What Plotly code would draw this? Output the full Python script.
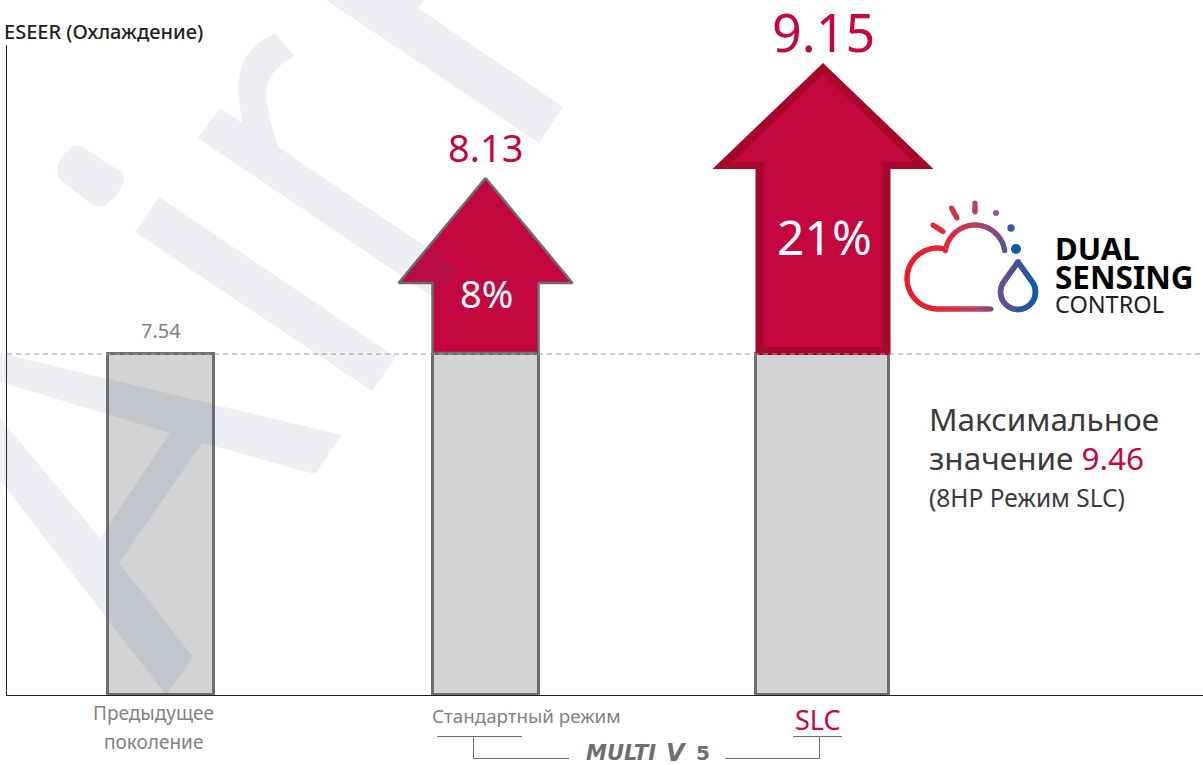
import math
import numpy as np
import plotly.graph_objects as go

# ---------- data ----------
categories = ["Предыдущее<br>поколение", "Стандартный режим", "SLC"]
base_values = [7.54, 7.54, 7.54]
eseer_values = [7.54, 8.13, 9.15]
gain_labels = ["8%", "21%"]
y_title = "ESEER (Охлаждение)"
max_label = "Максимальное"
max_label2 = "значение "
max_value = "9.46"
max_note = "(8HP Режим SLC)"

# ---------- page geometry ----------
W, H = 1203, 765
L, B_PX, T = 7, 695, 45
PW, PH = W - L, B_PX - T
UNIT = 341 / 7.54          # screen pixels per ESEER unit for the grey bars


def px(x):
    return (x - L) / PW


def py(y):
    return (B_PX - y) / PH


def val(y):
    return (B_PX - y) / UNIT


GREY = "#6D6E71"
TXT_GREY = "#808285"
RED = "#C4063F"
DARK_RED = "#A50829"
FONT = "Noto Sans"

bar_x = [160.5, 485.5, 822.5]
bar_w = [106, 106, 133]

fig = go.Figure()
fig.add_trace(go.Bar(x=bar_x, y=base_values, width=bar_w,
                     marker=dict(color="#D1D3D4", line=dict(color=GREY, width=3)),
                     hoverinfo="skip", showlegend=False))


def arrow(cx, head, shaft, tip, shoulder, bottom, color, line=None):
    xs = [cx, cx + head, cx + shaft, cx + shaft, cx - shaft, cx - shaft, cx - head, cx]
    ys = [val(v) for v in (tip, shoulder, shoulder, bottom, bottom, shoulder, shoulder, tip)]
    fig.add_trace(go.Scatter(x=xs, y=ys, mode="lines", fill="toself", fillcolor=color,
                             line=dict(color=line or color, width=2.5 if line else 0),
                             hoverinfo="skip", showlegend=False))


arrow(485.5, 87, 53, 178, 283, 353, RED, GREY)
arrow(823, 110.5, 67.5, 63, 169, 355, DARK_RED)
arrow(823, 90.5, 59.5, 74, 162, 347, RED)

shapes = []


def poly(points):
    return "M" + "L".join(f"{px(x):.5f},{py(y):.5f}" for x, y in points) + "Z"


# background watermark
wm = [
    [(326, 0), (539, 143), (563, 107), (418, 8), (424, 0)],
    [(220, 108), (242, 123), (239, 100), (238, 87), (240, 72), (245, 58), (254, 47), (264, 39), (275, 33),
     (294, 56), (282, 64), (273, 73), (267, 84), (266, 97), (270, 120), (278, 147), (456, 267),
     (433, 297), (198, 138)],
    [(79, 145), (123, 173), (124, 180), (120, 190), (115, 197), (106, 205), (98, 207), (90, 203), (58, 178),
     (57, 170), (60, 160), (65, 153), (72, 146)],
    [(159, 197), (396, 357), (372, 391), (135, 232)],
    [(0, 353), (342, 435), (315, 474), (202, 443), (119, 563), (193, 657), (166, 695), (0, 480),
     (0, 418), (100, 538), (170, 433), (0, 382)],
]
shapes.append(dict(type="path", xref="paper", yref="paper", layer="above",
                   path="".join(poly(p) for p in wm),
                   fillcolor="rgba(65,85,135,0.095)", line=dict(width=0)))


def seg(x0, y0, x1, y1, color=GREY, width=1, dash=None):
    ln = dict(color=color, width=width)
    if dash:
        ln["dash"] = dash
    shapes.append(dict(type="line", xref="paper", yref="paper", layer="above",
                       x0=px(x0), y0=py(y0), x1=px(x1), y1=py(y1), line=ln))


def dot(x, y, r, color):
    shapes.append(dict(type="circle", xref="paper", yref="paper", layer="above",
                       x0=px(x - r), x1=px(x + r), y0=py(y + r), y1=py(y - r),
                       fillcolor=color, line=dict(width=0)))


# reference line and brackets
seg(7, 354, 1203, 354, "#9A9C9F", 1, "5px,4px")
seg(437, 736.5, 522, 736.5)
seg(473.5, 736.5, 473.5, 758.5)
seg(473.5, 758.5, 569, 758.5)
seg(793, 736.5, 842, 736.5)
seg(819.5, 736.5, 819.5, 758.5)
seg(725, 758.5, 819.5, 758.5)

# logo with a red to blue gradient along x
stops_x = [905, 940, 975, 1000, 1037]
stops_c = [(237, 28, 36), (226, 40, 58), (184, 67, 95), (110, 79, 140), (11, 92, 171)]


def grad(x):
    c = [np.interp(x, stops_x, [s[i] for s in stops_c]) for i in range(3)]
    return "rgb(%d,%d,%d)" % tuple(int(v) for v in c)


def resample(points, step=2.0):
    out = []
    for a, b in zip(points[:-1], points[1:]):
        n = max(1, int(math.hypot(b[0] - a[0], b[1] - a[1]) / step))
        for i in range(n):
            out.append((a[0] + (b[0] - a[0]) * i / n, a[1] + (b[1] - a[1]) * i / n))
    out.append(points[-1])
    return out


def gradient_line(points, width=5, round_ends=True):
    pts = resample(points)
    for i in range(len(pts) - 1):
        a, b = pts[i], pts[min(i + 2, len(pts) - 1)]   # overlap so no seams show
        seg(a[0], a[1], b[0], b[1], grad(pts[i][0]), width)
    if round_ends:
        dot(pts[0][0], pts[0][1], width / 2, grad(pts[0][0]))
        dot(pts[-1][0], pts[-1][1], width / 2, grad(pts[-1][0]))


def arc(cx, cy, r, a0, a1, n):
    return [(cx + r * math.cos(math.radians(a)), cy + r * math.sin(math.radians(a)))
            for a in np.linspace(a0, a1, n)]


gradient_line([(991, 309), (950, 309)] + arc(937.5, 278.5, 30.5, 90, 285, 60))
gradient_line(arc(975, 255, 30, 188, 352, 50))
drop = [(1018, 262), (1032.3, 282)] + arc(1018, 292, 17.5, -35, 215, 60) + [(1018, 262)]
gradient_line(drop, 5.5)
gradient_line([(933, 225), (943, 231.5)], 5)
gradient_line([(951.5, 208), (957, 218)], 5)
gradient_line([(975, 203), (975, 212)], 5)
dot(996, 213, 3, "#8B5A8F")
dot(1011, 228, 3.7, "#2F5FA8")
dot(1016, 249, 5, "#0F5AA8")

annotations = []


def text(x, y, s, size, color, anchor="center", family=FONT, weight=None):
    f = dict(size=size, color=color, family=family)
    if weight:
        f["weight"] = weight
    annotations.append(dict(xref="paper", yref="paper", x=px(x), y=py(y), text=s, showarrow=False,
                            xanchor=anchor, yanchor="middle", align="center", font=f))


def fmt(v):
    return f"{v:.2f}"


text(2, 31, y_title, 20, "#231F20", "left", weight=500)
text(160.5, 331, fmt(eseer_values[0]), 20, TXT_GREY)
text(485.5, 147, fmt(eseer_values[1]), 38, RED)
text(823, 32, fmt(eseer_values[2]), 52, RED)
text(486, 293, gain_labels[0], 38, "white")
text(824, 236, gain_labels[1], 48, "white")
text(927, 418, max_label, 31.5, "#3A3A3C", "left")
annotations.append(dict(xref="paper", yref="paper", x=px(927), y=py(457), showarrow=False,
                        xanchor="left", yanchor="middle",
                        text=f"{max_label2}<span style='color:{RED}'>{max_value}</span>",
                        font=dict(size=31.5, color="#3A3A3C", family=FONT)))
text(927, 497, max_note, 24.5, "#3A3A3C", "left")
a, b = categories[0].split("<br>")
text(153.5, 713, a, 19, TXT_GREY)
text(153.5, 742, b, 19, TXT_GREY)
text(526, 716, categories[1], 18.8, TXT_GREY)
text(818, 719, categories[2], 27, RED)
text(1053, 248, "<b>DUAL</b>", 31, "#000000", "left")
text(1053, 276, "<b>SENSING</b>", 31.5, "#000000", "left")
text(1053, 304, "CONTROL", 23.5, "#231F20", "left")
text(621, 753, "<b><i>MULTI</i></b>", 21, GREY, family="DejaVu Sans")
text(676, 753, "<b><i>V</i></b>", 24, GREY, family="DejaVu Sans")
text(703, 753, "<b>5</b>", 20, GREY, family="DejaVu Sans")

fig.update_layout(
    width=W, height=H, autosize=False, bargap=0,
    margin=dict(l=L, r=0, t=T, b=H - B_PX, pad=0),
    paper_bgcolor="white", plot_bgcolor="white",
    xaxis=dict(range=[L, W], showgrid=False, zeroline=False, showticklabels=False, ticks="",
               showline=True, linecolor="#231F20", linewidth=1),
    yaxis=dict(range=[0, PH / UNIT], showgrid=False, zeroline=False, showticklabels=False, ticks="",
               showline=True, linecolor="#231F20", linewidth=1),
    shapes=shapes, annotations=annotations, showlegend=False,
)
fig.write_html("out.html", config=dict(displayModeBar=False),
               post_script="document.body.style.margin='0';document.body.style.overflow='hidden';")
